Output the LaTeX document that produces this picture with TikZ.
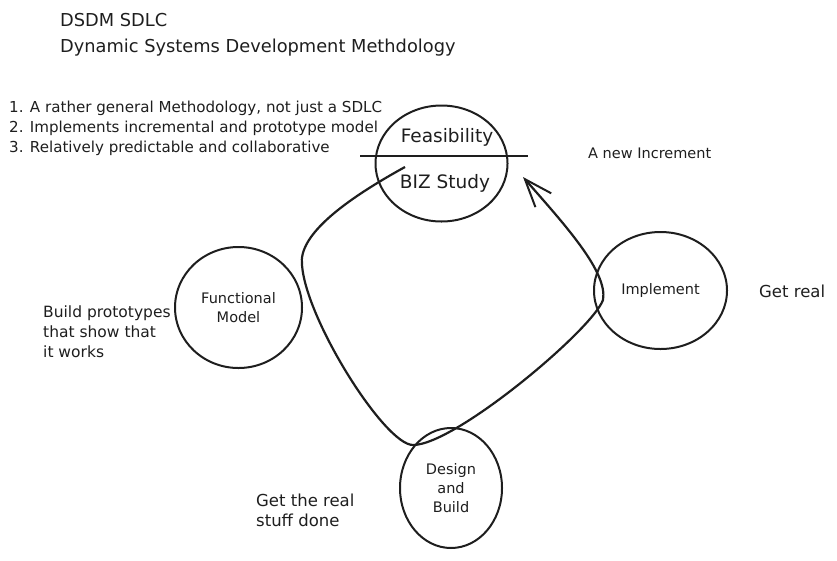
\documentclass[tikz,border=0pt]{standalone}
\usepackage{fontspec}
\setmainfont{DejaVu Sans}
\usetikzlibrary{shapes.geometric, arrows.meta, positioning}
\definecolor{ink}{HTML}{1E1E1E}

\begin{document}
\begin{tikzpicture}[
    x=1pt, y=-1pt,
    phase/.style={draw=ink, ellipse, line width=2pt, inner sep=0pt, align=center, text=ink, font=\fontsize{14.5}{19}\selectfont},
    note/.style={anchor=west, align=left, inner sep=0pt, text=ink, font=\fontsize{15.5}{20}\selectfont},
    heading/.style={anchor=west, align=left, inner sep=0pt, text=ink, font=\fontsize{17.8}{26}\selectfont},
    bigtext/.style={inner sep=0pt, text=ink, font=\fontsize{18.5}{22}\selectfont},
    divider/.style={draw=ink, line width=2pt},
    flow/.style={draw=ink, line width=2.2pt, -{Straight Barb[length=28pt, width=21pt, line width=2pt]}}
]
\useasboundingbox (0,0) rectangle (837,560);
\node (title) [heading] at (60,35) {DSDM SDLC\\Dynamic Systems Development Methdology};
\node (points) [note, font=\fontsize{15.1}{20}\selectfont] at (9,128) {1. A rather general Methodology, not just a SDLC\\2. Implements incremental and prototype model\\3. Relatively predictable and collaborative};
\node (feas) [phase, minimum width=132pt, minimum height=116pt] at (441.5,163.5) {};
\node (feasTop) [bigtext] at (447,137) {Feasibility};
\node (feasBot) [bigtext] at (445,183) {BIZ Study};
\coordinate (divL) at (360,156);
\coordinate (divR) at (528,156);
\draw[divider] (divL) -- (divR);
\node (func) [phase, minimum width=127pt, minimum height=121pt] at (238.5,307.5) {Functional\\Model};
\node (impl) [phase, minimum width=133pt, minimum height=117pt] at (660.5,290.5) {Implement};
\node (design) [phase, minimum width=102pt, minimum height=120pt] at (451,488) {Design\\and\\Build};
\node (increment) [note, font=\fontsize{14.5}{20}\selectfont] at (588,153) {A new Increment};
\node (getreal) [note, font=\fontsize{16.5}{20}\selectfont] at (759,291) {Get real};
\node (proto) [note] at (43,332) {Build prototypes\\that show that\\it works};
\node (done) [note, font=\fontsize{16.5}{20}\selectfont] at (256,510) {Get the real\\stuff done};
\coordinate (loopstart) at (405,167);
\coordinate (looptip) at (523,177);
\draw[flow] (loopstart) .. controls (345,200) and (298,235) .. (302,265)
  .. controls (306,320) and (385,445) .. (413,445)
  .. controls (455,445) and (592,330) .. (603,300)
  .. controls (608,272) and (565,225) .. (looptip);
\end{tikzpicture}
\end{document}
